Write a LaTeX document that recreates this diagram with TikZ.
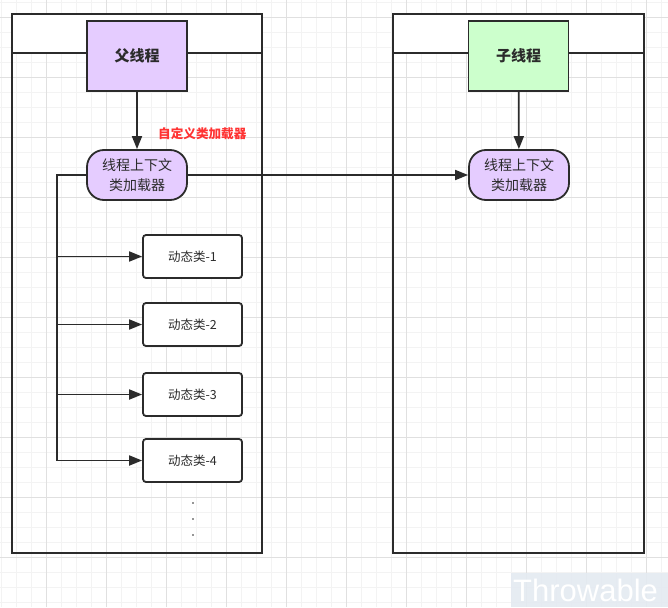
\documentclass[tikz,border=0pt]{standalone}
\usepackage{fontspec}
\setmainfont{Noto Sans CJK SC}
\newfontfamily\wmfont{Liberation Sans}
\usetikzlibrary{arrows.meta}
\definecolor{ink}{HTML}{2B2B2B}
\definecolor{lav}{HTML}{E5CCFF}
\definecolor{mint}{HTML}{CCFFCC}
\definecolor{redtxt}{HTML}{FF3333}
\definecolor{gminor}{HTML}{F3F3F3}
\definecolor{gmajor}{HTML}{E0E0E0}
\definecolor{wmbg}{HTML}{E4EAF1}
\tikzset{
  lane/.style={draw=ink, line width=2.2pt},
  thread/.style={draw=ink, line width=1.8pt, minimum width=100pt, minimum height=70pt, inner sep=0pt, font=\fontsize{15}{18}\selectfont\bfseries, text=ink},
  ctxnode/.style={draw=ink, line width=1.8pt, fill=lav, rounded corners=17pt, minimum width=100pt, minimum height=50pt, inner sep=0pt, align=center, font=\fontsize{14}{20}\selectfont, text=ink},
  dynbox/.style={draw=ink, line width=1.8pt, fill=white, rounded corners=3pt, minimum width=99pt, minimum height=43pt, inner sep=0pt, font=\fontsize{12.5}{15}\selectfont, text=ink},
  arr/.style={draw=ink, line width=1.8pt, -{Triangle[length=13pt,width=10pt]}},
  wire/.style={draw=ink, line width=1.8pt}
}
\begin{document}
\begin{tikzpicture}[x=1pt,y=-1pt]
\useasboundingbox (0,0) rectangle (668,607);
\fill[white] (0,0) rectangle (668,607);
% grid
\foreach \x in {1,16,...,661} \draw[gminor, line width=0.8pt] (\x,0) -- (\x,607);
\foreach \y in {2,17,...,602} \draw[gminor, line width=0.8pt] (0,\y) -- (668,\y);
\foreach \x in {46,106,...,646} \draw[gmajor, line width=0.8pt] (\x,0) -- (\x,607);
\foreach \y in {17,77,...,557} \draw[gmajor, line width=0.8pt] (0,\y) -- (668,\y);
% swimlanes
\fill[white] (12,14) rectangle (262,53);
\fill[white] (393,14) rectangle (644,53);
\draw[lane] (12,14) rectangle (262,553);
\draw[lane] (12,53) -- (262,53);
\draw[lane] (393,14) rectangle (644,553);
\draw[lane] (393,53) -- (644,53);
% nodes
\node[thread, fill=lav] (parent) at (137,56) {父线程};
\node[thread, fill=mint] (child) at (518.5,56) {子线程};
\node[ctxnode] (ctxL) at (137,175) {线程上下文\\类加载器};
\node[ctxnode] (ctxR) at (519,175) {线程上下文\\类加载器};
\node[dynbox] (d1) at (192.5,256.5) {动态类-1};
\node[dynbox] (d2) at (192.5,324.5) {动态类-2};
\node[dynbox] (d3) at (192.5,394.5) {动态类-3};
\node[dynbox] (d4) at (192.5,460.5) {动态类-4};
\node[text=redtxt, font=\fontsize{12.6}{14}\selectfont\bfseries, anchor=west, inner sep=0pt] (lbl) at (158,134) {自定义类加载器};
% connectors
\draw[arr] (parent) -- (ctxL);
\draw[arr] (child) -- (ctxR);
\draw[arr] (ctxL) -- (ctxR);
\coordinate (bus) at (57,175);
\draw[arr] (ctxL.west) -- (bus) |- (d4.west);
\draw[arr] (bus |- d1.west) -- (d1.west);
\draw[arr] (bus |- d2.west) -- (d2.west);
\draw[arr] (bus |- d3.west) -- (d3.west);
% dots
\foreach \y in {503,519,535} \fill[ink] (193,\y) circle (0.9pt);
% watermark
\fill[wmbg, opacity=0.9] (511,573) rectangle (668,607);
\node[text=white, font=\wmfont\fontsize{31}{31}\selectfont, anchor=base west, inner sep=0pt] (wm) at (513,601) {Throwable};
\end{tikzpicture}
\end{document}
